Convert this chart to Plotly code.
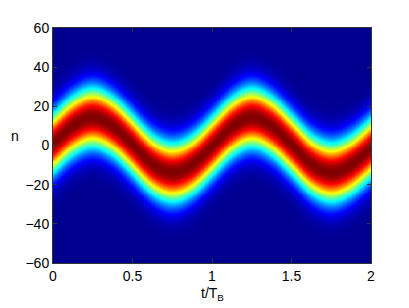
import numpy as np
import plotly.graph_objects as go

# Wave-packet centre at t/T_B knots
t_knots = [0.0, 0.125, 0.25, 0.375, 0.5, 0.625, 0.75, 0.875, 1.0,
           1.125, 1.25, 1.375, 1.5, 1.625, 1.75, 1.875, 2.0]
center_knots = [1.5, 10.5, 14.5, 10.0, 0.5, -9.5, -13.5, -9.5, 0.0,
                10.0, 14.5, 10.0, 0.5, -9.5, -13.5, -9.5, -1.0]
profile_width = 15.0
profile_power = 2.1

x_ticks = [0, 0.5, 1, 1.5, 2]
x_ticklabels = ["0", "0.5", "1", "1.5", "2"]
y_ticks = [-60, -40, -20, 0, 20, 40, 60]

# grid
t = np.linspace(0, 2, 241)
n = np.arange(-60, 61)

# smooth (Catmull-Rom) centre curve through the knots
tk = np.array(t_knots); ck = np.array(center_knots)
def catmull(tq):
    out = np.empty_like(tq)
    h = tk[1] - tk[0]
    for i, tv in enumerate(tq):
        j = min(int(tv // h), len(tk) - 2)
        s = (tv - tk[j]) / h
        p0 = ck[j - 1] if j - 1 >= 0 else ck[j] - (ck[j + 1] - ck[j])
        p1 = ck[j]; p2 = ck[j + 1]
        p3 = ck[j + 2] if j + 2 < len(ck) else ck[j + 1] + (ck[j + 1] - ck[j])
        out[i] = 0.5 * ((2 * p1) + (-p0 + p2) * s + (2 * p0 - 5 * p1 + 4 * p2 - p3) * s ** 2
                        + (-p0 + 3 * p1 - 3 * p2 + p3) * s ** 3)
    return out

c = catmull(t)
D = np.abs(n[:, None] - c[None, :])
Z = np.exp(-(D / profile_width) ** profile_power)

jet = [[0.0, "rgb(0,0,143)"], [0.111, "rgb(0,0,255)"], [0.365, "rgb(0,255,255)"],
       [0.619, "rgb(255,255,0)"], [0.873, "rgb(255,0,0)"], [1.0, "rgb(128,0,0)"]]

fig = go.Figure(go.Heatmap(x=t, y=n, z=Z, colorscale=jet, zmin=0, zmax=1,
                           showscale=False, zsmooth="best"))

font = dict(family="Liberation Sans, Arial, sans-serif", size=14, color="black")
fig.update_layout(
    width=409, height=308,
    margin=dict(l=45, r=46, t=15, b=53),
    paper_bgcolor="white", plot_bgcolor="white",
    font=font,
    xaxis=dict(range=[0, 2], tickvals=x_ticks, ticktext=x_ticklabels,
               ticks="inside", ticklen=4, tickcolor="#333", showline=True,
               mirror="ticks", linecolor="#333", linewidth=1, showgrid=False,
               zeroline=False, tickfont=font),
    yaxis=dict(range=[-60, 60], tickvals=y_ticks, ticks="inside", ticklen=4,
               tickcolor="#333", showline=True, mirror="ticks", linecolor="#333",
               linewidth=1, showgrid=False, zeroline=False, tickfont=font),
    annotations=[
        dict(text="t/T<sub>B</sub>", x=0.5, xref="paper", y=-0.085, yref="paper",
             showarrow=False, font=font, xanchor="center", yanchor="top"),
        dict(text="n", x=-0.118, xref="paper", y=0.54, yref="paper",
             showarrow=False, font=font, xanchor="center", yanchor="middle"),
    ],
)
fig.write_html("out.html")
